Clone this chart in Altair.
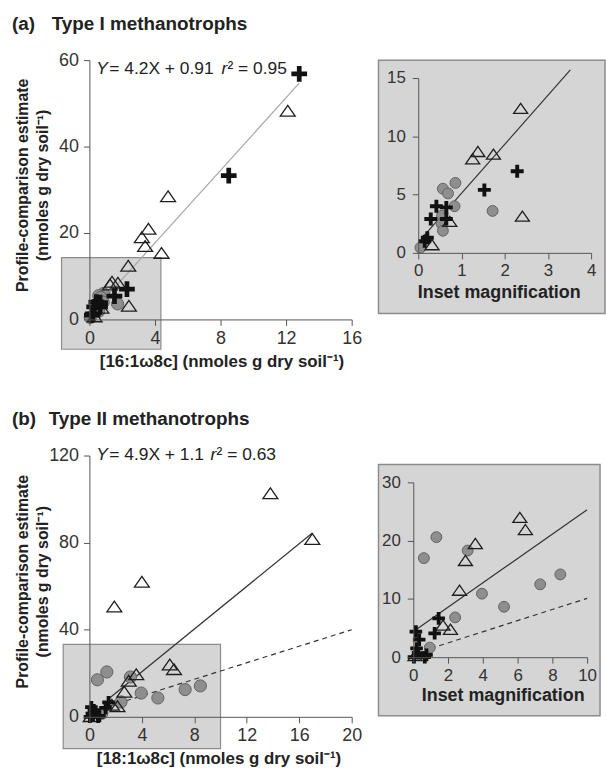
import altair as alt
import pandas as pd

FONT = "Liberation Sans"
INK = "#222222"
AXIS_GREY = "#555555"
PANEL_FILL = "#d5d5d5"
PANEL_EDGE = "#8c8c8c"

# ---------------- (a) Type I methanotrophs : [16:1ω8c] ----------------
a_tri_x = [12.1, 4.8, 3.6, 3.2, 3.4, 4.4, 2.37, 1.38, 1.26, 1.74, 2.41, 0.73, 0.32]
a_tri_y = [48.3, 28.5, 21.0, 19.0, 17.0, 15.4, 12.4, 8.7, 8.07, 8.47, 3.15, 2.7, 0.7]
a_cross_x = [12.8, 8.5, 2.29, 1.53, 0.42, 0.65, 0.29, 0.65, 0.21, 0.15]
a_cross_y = [56.8, 33.3, 7.0, 5.4, 4.0, 3.9, 2.9, 2.9, 1.3, 1.0]
a_circ_x = [0.86, 0.57, 0.69, 0.84, 1.72, 0.55, 0.54, 0.57, 0.05]
a_circ_y = [6.0, 5.5, 5.1, 4.0, 3.6, 3.2, 2.5, 1.9, 0.45]
a_slope, a_intercept = 4.2, 0.91
a_fit_main_x = [0.1, 12.8]
a_fit_inset_x = [0.1, 3.52]
a_box_x, a_box_x2, a_box_y, a_box_y2 = -1.7, 4.36, -6.9, 14.3
a_main_xticks = [0, 4, 8, 12, 16]
a_main_yticks = [0, 20, 40, 60]
a_inset_xticks = [0, 1, 2, 3, 4]
a_inset_yticks = [0, 5, 10, 15]

# ---------------- (b) Type II methanotrophs : [18:1ω8c] ----------------
b_tri_x = [13.8, 17.0, 4.0, 1.9, 6.13, 6.45, 3.57, 3.0, 2.66, 1.71, 2.14, 0.1]
b_tri_y = [102.7, 81.7, 62.0, 50.7, 24.0, 21.9, 19.5, 16.6, 11.5, 5.5, 4.8, 0.3]
b_cross_x = [1.46, 1.23, 0.15, 0.34, 0.19, 0.28, 0.76, 0.66, 0.04]
b_cross_y = [6.66, 4.1, 4.4, 3.0, 1.5, 0.7, 0.4, 0.0, 0.0]
b_circ_x = [1.33, 0.61, 3.13, 3.95, 5.22, 2.41, 7.3, 8.46, 0.95]
b_circ_y = [20.6, 17.0, 18.3, 10.9, 8.65, 6.83, 12.5, 14.2, 1.65]
b_slope, b_intercept = 4.9, 1.1
b_fit_main_x = [1.4, 17.0]
b_dash_main_x = [1.5, 20.0]
b_dash_main_y = [4.9, 40.0]
b_fit_inset_x = [0.15, 10.0]
b_fit_inset_y = [4.7, 25.3]
b_dash_inset_x = [1.0, 10.0]
b_dash_inset_y = [1.5, 10.1]
b_box_x, b_box_x2, b_box_y, b_box_y2 = -2.0, 10.0, -14.6, 33.3
b_main_xticks = [0, 4, 8, 12, 16, 20]
b_main_yticks = [0, 40, 80, 120]
b_inset_xticks = [0, 2, 4, 6, 8, 10]
b_inset_yticks = [0, 10, 20, 30]

# symbol outlines in the [-1, 1] box
CROSS = ("M-1,-0.3L-0.3,-0.3L-0.3,-1L0.3,-1L0.3,-0.3L1,-0.3L1,0.3L0.3,0.3"
         "L0.3,1L-0.3,1L-0.3,0.3L-1,0.3Z")
TRIANGLE = "M0,-0.72L1,0.72L-1,0.72Z"


def points_frame(tx, ty, cx, cy, ox, oy):
    return pd.DataFrame({
        "x": tx + cx + ox,
        "y": ty + cy + oy,
        "kind": ["tri"] * len(tx) + ["cross"] * len(cx) + ["circ"] * len(ox),
    })


def fit_frame(xs, slope, intercept):
    return pd.DataFrame({"x": xs, "y": [slope * v + intercept for v in xs]})


def axis(values, title, size=18, title_size=17, **kw):
    return alt.Axis(
        values=values, title=title, grid=False, tickSize=6, tickColor=AXIS_GREY,
        tickWidth=1, domainColor=AXIS_GREY, domainWidth=1, labelFont=FONT,
        labelFontSize=size, labelColor="#333333", labelFlush=False,
        labelOverlap=False, titleFont=FONT, titleFontSize=title_size,
        titleFontWeight="bold", titleColor=INK, zindex=1, **kw)


def label(text, x, y, size=17.5, weight="normal", style="normal"):
    return alt.Chart(pd.DataFrame({"t": [text]})).mark_text(
        x=x, y=y, align="left", baseline="alphabetic", font=FONT,
        fontSize=size, fontWeight=weight, fontStyle=style, color=INK,
    ).encode(text="t:N")


def scatter(pts, X, Y, tri_size, cross_size, circ_size):
    circ = alt.Chart(pts[pts.kind == "circ"]).mark_point(
        shape="circle", filled=True, size=circ_size, fill="#8e8e8e",
        stroke="#626262", strokeWidth=1, opacity=1,
    ).encode(x=X, y=Y)
    tri = alt.Chart(pts[pts.kind == "tri"]).mark_point(
        shape=TRIANGLE, filled=False, size=tri_size, stroke="#1e1e1e",
        strokeWidth=1.3, opacity=1,
    ).encode(x=X, y=Y)
    cross = alt.Chart(pts[pts.kind == "cross"]).mark_point(
        shape=CROSS, filled=True, size=cross_size, fill="#111111",
        strokeWidth=0, opacity=1,
    ).encode(x=X, y=Y)
    return [circ, tri, cross]


def box(x, x2, y, y2, X, Y):
    df = pd.DataFrame({"x": [x], "x2": [x2], "y": [y], "y2": [y2]})
    return alt.Chart(df).mark_rect(
        fill=PANEL_FILL, stroke=PANEL_EDGE, strokeWidth=1.2, clip=False,
    ).encode(x=X, x2="x2:Q", y=Y, y2="y2:Q")


def line(df, X, Y, color, dash=None, width=1.2):
    kw = {"strokeDash": dash} if dash else {}
    return alt.Chart(df).mark_line(color=color, strokeWidth=width, **kw).encode(x=X, y=Y)


def equation(fit, r2, x_r, y):
    return [
        label("Y", 7, y, style="italic"),
        label(fit, 20, y),
        label("r", x_r, y, style="italic"),
        label("\u00b2 = " + r2, x_r + 6, y),
    ]


Y_TITLE = ["Profile-comparison estimate", "(nmoles g dry soil\u207b\u00b9)"]

# ---------------- panel (a), main ----------------
a_pts = points_frame(a_tri_x, a_tri_y, a_cross_x, a_cross_y, a_circ_x, a_circ_y)
Xa = alt.X("x:Q", scale=alt.Scale(domain=[0, 16], nice=False, zero=False),
           axis=axis(a_main_xticks, "[16:1\u03c98c] (nmoles g dry soil\u207b\u00b9)",
                     titleX=133, titleY=47, titleBaseline="alphabetic",
                     titleAlign="center", labelPadding=4))
Ya = alt.Y("y:Q", scale=alt.Scale(domain=[0, 60], nice=False, zero=False),
           axis=axis(a_main_yticks, Y_TITLE, title_size=16, titleX=-67, titleY=125.5,
                     titleAngle=270, titleBaseline="middle", titleAlign="center",
                     titleLineHeight=20, labelPadding=5))
main_a = alt.layer(
    box(a_box_x, a_box_x2, a_box_y, a_box_y2, Xa, Ya),
    line(fit_frame(a_fit_main_x, a_slope, a_intercept), Xa, Ya, "#a8a8a8"),
    *scatter(a_pts, Xa, Ya, 225, 250, 150),
    *equation("= 4.2X + 0.91", "0.95", 133, 14),
    label("(a)", -78, -30, size=19, weight="bold"),
    label("Type I methanotrophs", -38, -30, size=19, weight="bold"),
).properties(width=264, height=261,
             view=alt.ViewBackground(strokeWidth=0))

# ---------------- panel (a), inset ----------------
a_in = a_pts[(a_pts.x <= 4.1) & (a_pts.y <= 15.5)]
Xai = alt.X("x:Q", scale=alt.Scale(domain=[0, 4], range=[40, 214], nice=False, zero=False),
            axis=axis(a_inset_xticks, "Inset magnification", size=17, title_size=18,
                      offset=-61, titleX=121, titleY=45, titleBaseline="alphabetic",
                      titleAlign="center", labelPadding=4))
Yai = alt.Y("y:Q", scale=alt.Scale(domain=[0, 15], range=[194, 18], nice=False, zero=False),
            axis=axis(a_inset_yticks, None, size=17, offset=-40, labelPadding=7))
inset_a = alt.layer(
    line(fit_frame(a_fit_inset_x, a_slope, a_intercept), Xai, Yai, "#333333"),
    *scatter(a_in, Xai, Yai, 200, 170, 120),
).properties(width=228, height=255,
             view=alt.ViewBackground(fill=PANEL_FILL, stroke=PANEL_EDGE, strokeWidth=1.5))

# ---------------- panel (b), main ----------------
b_pts = points_frame(b_tri_x, b_tri_y, b_cross_x, b_cross_y, b_circ_x, b_circ_y)
Xb = alt.X("x:Q", scale=alt.Scale(domain=[0, 20], range=[0, 264], nice=False, zero=False),
           axis=axis(b_main_xticks, "[18:1\u03c98c] (nmoles g dry soil\u207b\u00b9)",
                     titleX=130, titleY=47, titleBaseline="alphabetic",
                     titleAlign="center", labelPadding=4))
Yb = alt.Y("y:Q", scale=alt.Scale(domain=[0, 120], range=[254, -9], nice=False, zero=False),
           axis=axis(b_main_yticks, Y_TITLE, title_size=16, titleX=-67, titleY=117.5,
                     titleAngle=270, titleBaseline="middle", titleAlign="center",
                     titleLineHeight=20, labelPadding=5))
main_b = alt.layer(
    box(b_box_x, b_box_x2, b_box_y, b_box_y2, Xb, Yb),
    line(fit_frame(b_fit_main_x, b_slope, b_intercept), Xb, Yb, "#333333"),
    line(pd.DataFrame({"x": b_dash_main_x, "y": b_dash_main_y}), Xb, Yb, "#333333", dash=[5, 4]),
    *scatter(b_pts, Xb, Yb, 225, 160, 150),
    *equation("= 4.9X + 1.1", "0.63", 122, -5),
    label("(b)", -78, -40, size=19, weight="bold"),
    label("Type II methanotrophs", -41, -40, size=19, weight="bold"),
).properties(width=269, height=254,
             view=alt.ViewBackground(strokeWidth=0))

# ---------------- panel (b), inset ----------------
b_in = b_pts[(b_pts.x <= 10.2) & (b_pts.y <= 31)]
Xbi = alt.X("x:Q", scale=alt.Scale(domain=[0, 10], range=[35, 210], nice=False, zero=False),
            axis=axis(b_inset_xticks, "Inset magnification", size=17, title_size=18,
                      offset=-59, titleX=125, titleY=44, titleBaseline="alphabetic",
                      titleAlign="center", labelPadding=4))
Ybi = alt.Y("y:Q", scale=alt.Scale(domain=[0, 30], range=[194, 18], nice=False, zero=False),
            axis=axis(b_inset_yticks, None, size=17, offset=-35, labelPadding=7))
inset_b = alt.layer(
    line(pd.DataFrame({"x": b_fit_inset_x, "y": b_fit_inset_y}), Xbi, Ybi, "#333333"),
    line(pd.DataFrame({"x": b_dash_inset_x, "y": b_dash_inset_y}), Xbi, Ybi, "#333333", dash=[5, 4]),
    *scatter(b_in, Xbi, Ybi, 200, 160, 120),
).properties(width=223, height=253,
             view=alt.ViewBackground(fill=PANEL_FILL, stroke=PANEL_EDGE, strokeWidth=1.5))

chart = alt.concat(
    main_a, inset_a, main_b, inset_b,
    columns=2,
    spacing=alt.RowColnumber(row=146, column=22),
    align=alt.RowColLayoutAlign(row="all", column="none"),
    bounds="flush",
).properties(
    padding={"left": 12, "top": 13, "right": 0, "bottom": 0},
    background="white",
)

chart.save("out.html", embed_options={"renderer": "svg", "actions": False})
